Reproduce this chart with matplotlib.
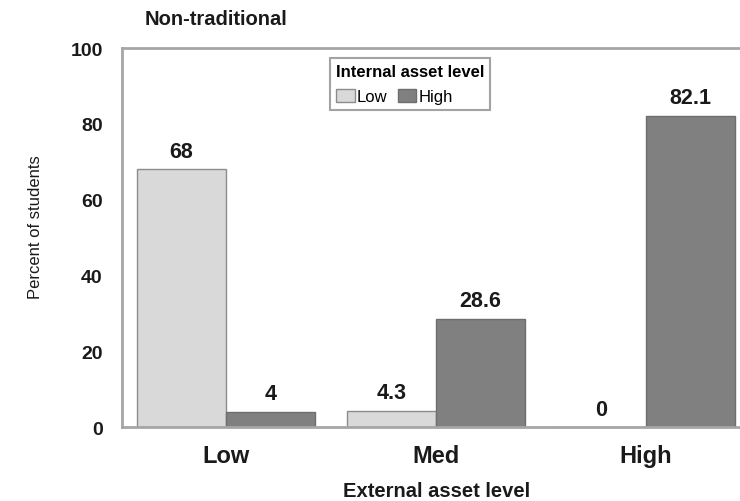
import matplotlib
matplotlib.use('Agg')
import matplotlib.pyplot as plt
import numpy as np

plt.rcParams['font.family'] = ['Liberation Sans', 'DejaVu Sans']

# data
external_levels = ['Low', 'Med', 'High']
internal_low = [68, 4.3, 0]
internal_high = [4, 28.6, 82.1]
low_labels = ['68', '4.3', '0']
high_labels = ['4', '28.6', '82.1']

LIGHT = '#d9d9d9'
DARK = '#808080'
SPINE = '#a6a6a6'
TXT = '#1a1a1a'

fig = plt.figure(figsize=(7.4, 5.02), dpi=100)
ax = fig.add_axes([0.165, 0.147, 0.85, 0.755])

x = np.arange(len(external_levels))
w = 0.424

b1 = ax.bar(x - w/2, internal_low, w, color=LIGHT, edgecolor='#8c8c8c',
            linewidth=1.0, label='Low')
b2 = ax.bar(x + w/2, internal_high, w, color=DARK, edgecolor='#6e6e6e',
            linewidth=1.0, label='High')

for bars, labels in ((b1, low_labels), (b2, high_labels)):
    for rect, txt in zip(bars, labels):
        ax.text(rect.get_x() + rect.get_width()/2, rect.get_height() + 2.0, txt,
                ha='center', va='bottom', fontsize=15.5, fontweight='bold', color=TXT)

ax.set_xlim(-0.495, 2.5)
ax.set_ylim(0, 100)
ax.set_yticks([0, 20, 40, 60, 80, 100])
ax.set_xticks(x)
ax.set_xticklabels(external_levels, fontsize=17, fontweight='bold', color=TXT)
for lab in ax.get_yticklabels():
    lab.set_fontsize(14)
    lab.set_fontweight('bold')
    lab.set_color(TXT)
ax.tick_params(axis='both', length=0)
ax.tick_params(axis='y', pad=14)
ax.tick_params(axis='x', pad=12)

for side in ['left', 'top', 'bottom', 'right']:
    ax.spines[side].set_color(SPINE)
    ax.spines[side].set_linewidth(2)

ax.set_ylabel('Percent of students', fontsize=12, color=TXT)
ax.yaxis.set_label_coords(-0.125, 0.53)
ax.set_xlabel('External asset level', fontsize=14.5, fontweight='bold',
              color=TXT, labelpad=10)

leg = ax.legend(title='Internal asset level', loc='upper left',
                bbox_to_anchor=(0.318, 0.995), ncol=2, fontsize=12,
                title_fontproperties={'weight': 'bold', 'size': 12},
                alignment='left',
                frameon=True, fancybox=False, handlelength=1.1, handleheight=0.75,
                handletextpad=0.15, columnspacing=0.6, borderpad=0.35,
                labelspacing=0.6)
leg.get_frame().set_edgecolor('#8c8c8c')
leg.get_frame().set_linewidth(1.5)

fig.text(0.196, 0.962, 'Non-traditional', fontsize=14.5, fontweight='bold',
         color=TXT, ha='left', va='center')

fig.savefig('out.png', dpi=100)
